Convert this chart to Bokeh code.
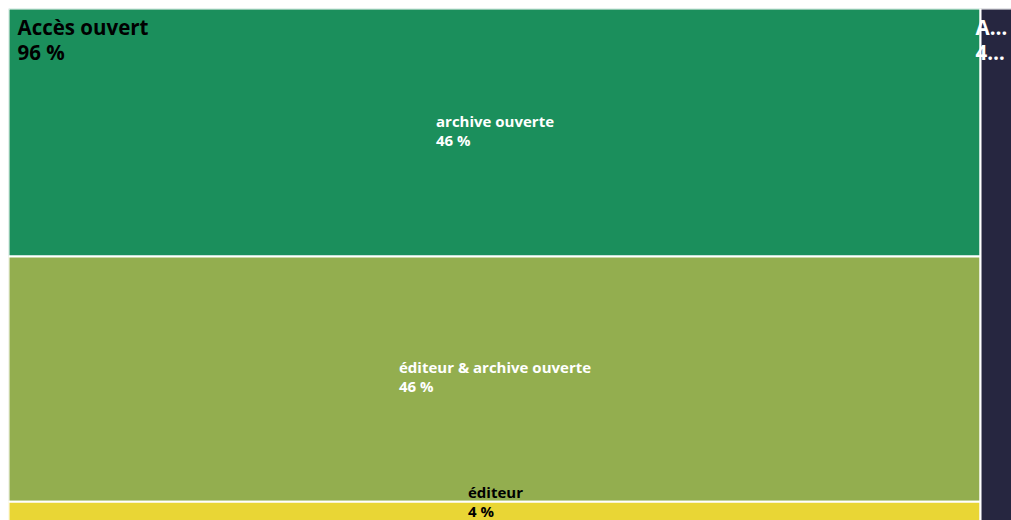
from bokeh.plotting import figure
from bokeh.models import Range1d, ColumnDataSource
from bokeh.core.properties import value
from bokeh.embed import file_html
from bokeh.resources import INLINE

# ---- data ----
group_names = ["Accès ouvert", "Accès fermé"]
open_sub_names = ["archive ouverte", "éditeur & archive ouverte", "éditeur"]
open_sub_values = [46.2, 45.7, 4.1]
closed_value = 4.0

# ---- styles ----
sub_colors = ["#1b8f5c", "#93ae4f", "#e9d635"]
closed_color = "#262640"
sub_text_colors = ["white", "white", "black"]
sub_line1_widths = [117, 191, 53]   # label widths in px, for left-aligned centred blocks
FONT = value("Open Sans")

MARGIN = 8
FW, FH = 1003, 512          # frame size
open_total = sum(open_sub_values)
total = open_total + closed_value
# visible viewport (the chart is slightly larger than the window in the reference)
x_end = 99.06
y_end = 95.38

p = figure(width=FW + MARGIN, height=FH + MARGIN, x_range=Range1d(0, x_end),
           y_range=Range1d(y_end, 0),
           toolbar_location=None, output_backend="svg",
           x_axis_location=None, y_axis_location=None,
           min_border=0, min_border_left=MARGIN, min_border_right=0,
           min_border_top=MARGIN, min_border_bottom=0)
p.grid.visible = False
p.outline_line_color = None
p.background_fill_color = "white"
p.border_fill_color = "white"

# ---- slice-and-dice layout ----
lefts, rights, tops, bottoms, colors = [], [], [], [], []
cum = 0.0
centers = []
for v, c in zip(open_sub_values, sub_colors):
    lefts.append(0); rights.append(open_total)
    tops.append(cum); bottoms.append(cum + v)
    colors.append(c)
    centers.append((open_total / 2, cum + v / 2))
    cum += v
lefts.append(open_total); rights.append(total)
tops.append(0); bottoms.append(open_total)
colors.append(closed_color)

src = ColumnDataSource(dict(left=lefts, right=rights, top=tops, bottom=bottoms, color=colors))
p.quad(left="left", right="right", top="top", bottom="bottom", fill_color="color",
       line_color="white", line_width=2, source=src)

# ---- sub labels ----
L1, L2 = -12, 7
py_per_unit = FH / y_end
for name, v, (cx, cy), tc, w in zip(open_sub_names, open_sub_values, centers,
                                      sub_text_colors, sub_line1_widths):
    pct = f"{round(v / total * 100)} %"
    center_px = cy * py_per_unit
    shift = 0
    if center_px + L2 > FH - 9:
        shift = (FH - 9) - (center_px + L2)
    for txt, off in ((name, L1 + shift), (pct, L2 + shift)):
        p.text(x=[cx], y=[cy], text=[txt], text_font=FONT, text_font_style="bold",
               text_font_size="15px", text_color=tc, text_align="left",
               text_baseline="alphabetic", x_offset=-w / 2, y_offset=off)

# ---- group labels ----
open_pct = f"{round(open_total / total * 100)} %"
for txt, off in ((group_names[0], 18), (open_pct, 43)):
    p.text(x=[0], y=[0], text=[txt], text_font=FONT, text_font_style="bold",
           text_font_size="20.5px", text_color="black", text_align="left",
           text_baseline="alphabetic", x_offset=9, y_offset=off)

closed_pct = f"{round(closed_value / total * 100)} %"
for txt, off in ((group_names[1][0] + "…", 18), (closed_pct[0] + "…", 43)):
    p.text(x=[open_total], y=[0], text=[txt], text_font=FONT, text_font_style="bold",
           text_font_size="20.5px", text_color="white", text_align="left",
           text_baseline="alphabetic", x_offset=-5, y_offset=off)

open("out.html", "w").write(file_html(p, INLINE))
